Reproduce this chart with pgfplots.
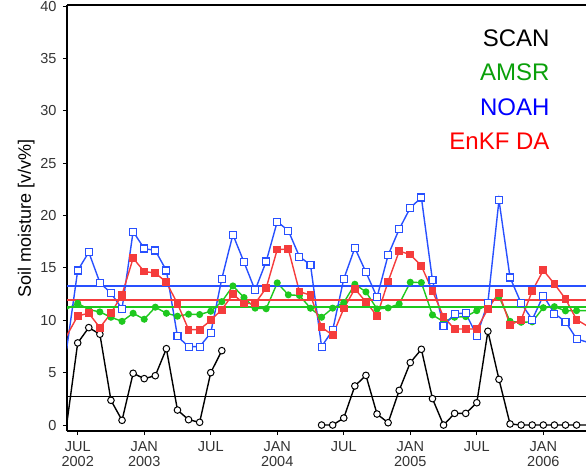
\documentclass[border=0pt]{standalone}
\usepackage{pgfplots}
\pgfplotsset{compat=1.18}
\usepackage{fontspec}
\setmainfont{Liberation Sans}
\definecolor{noahc}{RGB}{40,80,255}
\definecolor{enkfc}{RGB}{245,60,60}
\definecolor{amsrc}{RGB}{30,200,30}
\definecolor{amsrt}{RGB}{10,160,10}
\definecolor{noaht}{RGB}{0,0,255}
\definecolor{enkft}{RGB}{255,0,0}
\begin{document}
\begin{tikzpicture}
\useasboundingbox (0,0) rectangle (586pt,472pt);
\begin{axis}[
  at={(67pt,41pt)}, anchor=south west,
  scale only axis, width=519pt, height=426pt,
  xmin=-0.965, xmax=45.85, ymin=-0.57, ymax=40.1,
  axis x line=box, axis y line=left,
  axis line style={-, line width=1.6pt, black},
  xtick={0,6,12,18,24,30,36,42},
  xticklabels={{JUL\\2002},{JAN\\2003},{JUL},{JAN\\2004},{JUL},{JAN\\2005},{JUL},{JAN\\2006}},
  xticklabel style={align=center, font=\fontsize{14.5}{14.5}\selectfont, text=black!80, yshift=-3pt},
  ytick={0,5,...,40},
  yticklabel style={font=\fontsize{14.5}{16}\selectfont, text=black!80, xshift=-3pt},
  /pgf/number format/assume math mode=true,
  tick align=outside, major tick length=4pt,
  tick style={black, line width=1pt},
  xtick pos=lower, ytick pos=lower,
  ylabel={Soil moisture [v/v\%]},
  every axis y label/.style={at={(axis description cs:-0.0694,0.5)}, rotate=90, anchor=base, font=\fontsize{18}{20}\selectfont},
  unbounded coords=jump,
  clip=true,
]
% SCAN
\addplot[black, line width=1.4pt, mark=*, mark size=3.3pt, mark options={fill=white, draw=black, line width=1pt}] coordinates {
(-1,0) (0,7.84) (1,9.3) (2,8.67) (3,2.36) (4,0.45) (5,4.94) (6,4.43) (7,4.71) (8,7.29) (9,1.43) (10,0.51) (11,0.26) (12,5.0) (13,7.1)
(14,nan)
(22,0) (23,0) (24,0.67) (25,3.73) (26,4.74) (27,1.05) (28,0.22) (29,3.31) (30,5.96) (31,7.23) (32,2.52) (33,0) (34,1.11) (35,1.11) (36,2.13) (37,8.95) (38,4.36) (39,0.1) (40,0) (41,0) (42,0) (43,0) (44,0) (45,0) (46,0)
};
% AMSR
\addplot[amsrc, line width=1.4pt, mark=*, mark size=2.8pt, mark options={fill=amsrc, draw=amsrc}] coordinates {
(-1,11.08) (0,11.63) (1,11.02) (2,10.8) (3,10.29) (4,9.9) (5,10.67) (6,10.1) (7,11.25) (8,10.67) (9,10.39) (10,10.58) (11,10.55) (12,10.86) (13,11.78) (14,13.28) (15,12.17) (16,11.16) (17,11.1) (18,13.57) (19,12.43) (20,12.37) (21,11.15) (22,10.29) (23,11.16) (24,11.69) (25,13.44) (26,12.71) (27,11.08) (28,11.18) (29,11.56) (30,13.63) (31,13.6) (32,10.51) (33,9.87) (34,10.29) (35,10.35) (36,10.92) (37,11.5) (38,12.26) (39,9.9) (40,9.81) (41,9.85) (42,11.2) (43,11.3) (44,10.9) (45,10.92) (46,10.92)
};
% NOAH
\addplot[noahc, line width=1.4pt, mark=square*, mark size=3.5pt, mark options={fill=white, draw=noahc, line width=1.1pt}] coordinates {
(-1,7.23) (0,14.75) (1,16.5) (2,13.6) (3,12.58) (4,11.11) (5,18.47) (6,16.85) (7,16.66) (8,14.75) (9,8.47) (10,7.48) (11,7.48) (12,8.79) (13,13.98) (14,18.18) (15,15.55) (16,12.87) (17,15.61) (18,19.42) (19,18.55) (20,16.08) (21,15.29) (22,7.48) (23,9.06) (24,13.95) (25,16.91) (26,14.59) (27,12.2) (28,16.22) (29,18.7) (30,20.74) (31,21.72) (32,13.82) (33,9.43) (34,10.64) (35,10.67) (36,8.54) (37,11.69) (38,21.47) (39,14.08) (40,11.63) (41,10.06) (42,12.36) (43,10.64) (44,9.87) (45,8.22) (46,7.9)
};
% EnKF DA
\addplot[enkfc, line width=1.4pt, mark=square*, mark size=3.2pt, mark options={fill=enkfc, draw=enkfc}] coordinates {
(-1,8.5) (0,10.42) (1,10.67) (2,9.3) (3,10.67) (4,12.45) (5,15.93) (6,14.65) (7,14.52) (8,13.63) (9,11.59) (10,9.11) (11,9.11) (12,10.0) (13,11.02) (14,12.49) (15,11.6) (16,11.6) (17,13.08) (18,16.75) (19,16.8) (20,12.74) (21,12.39) (22,9.33) (23,8.58) (24,11.12) (25,13.0) (26,11.75) (27,10.42) (28,13.7) (29,16.6) (30,16.28) (31,15.19) (32,12.8) (33,10.32) (34,9.17) (35,9.17) (36,9.17) (37,11.08) (38,12.64) (39,9.54) (40,10.06) (41,12.8) (42,14.78) (43,13.47) (44,12.04) (45,10.06) (46,9.43)
};
% mean lines
\addplot[black, line width=1.5pt] coordinates {(-2,2.74) (47,2.74)};
\addplot[amsrc, line width=1.5pt] coordinates {(-2,11.26) (47,11.26)};
\addplot[enkfc, line width=1.5pt] coordinates {(-2,11.93) (47,11.93)};
\addplot[noahc, line width=1.5pt] coordinates {(-2,13.25) (47,13.25)};
% legend text
\node[anchor=base east, font=\fontsize{24}{24}\selectfont, text=black] at (rel axis cs:0.9364,0.9021) {SCAN};
\node[anchor=base east, font=\fontsize{24}{24}\selectfont, text=amsrt] at (rel axis cs:0.9364,0.8216) {AMSR};
\node[anchor=base east, font=\fontsize{24}{24}\selectfont, text=noaht] at (rel axis cs:0.9364,0.7401) {NOAH};
\node[anchor=base east, font=\fontsize{24}{24}\selectfont, text=enkft] at (rel axis cs:0.9364,0.6613) {EnKF DA};
\end{axis}
\end{tikzpicture}
\end{document}
